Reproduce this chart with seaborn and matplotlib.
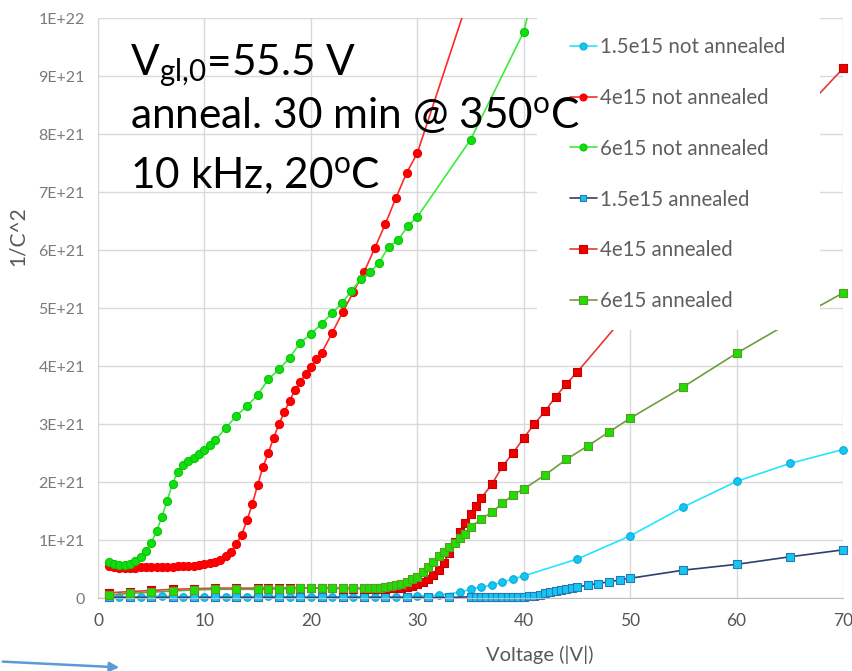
import matplotlib
matplotlib.use("Agg")
import matplotlib.pyplot as plt
from matplotlib.lines import Line2D
from matplotlib.patches import Rectangle, FancyArrowPatch
from matplotlib.ticker import FuncFormatter, MultipleLocator
import numpy as np
import pandas as pd
import seaborn as sns

# ---- measured 1/C^2 curves (values in units of 1e21) ----
series_names = ["1.5e15 not annealed", "4e15 not annealed", "6e15 not annealed",
                "1.5e15 annealed", "4e15 annealed", "6e15 annealed"]

v_15_na = [1, 2, 4, 6, 8, 10, 12, 14, 16, 18, 20, 22, 24, 26, 28, 30, 32, 34,
           35, 36, 37, 38, 39, 40, 45, 50, 55, 60, 65, 70]
c_15_na = [0.03, 0.02, 0.02, 0.03, 0.02, 0.02, 0.02, 0.02, 0.03, 0.02, 0.02, 0.02,
           0.02, 0.02, 0.02, 0.03, 0.05, 0.10,
           0.15, 0.19, 0.22, 0.27, 0.33, 0.38, 0.67, 1.07, 1.57, 2.01, 2.32, 2.56]

v_4_na = [1, 1.5, 2, 2.5, 3, 3.5, 4, 4.5, 5, 5.5, 6, 6.5, 7, 7.5, 8, 8.5, 9, 9.5,
          10, 10.5, 11, 11.5, 12, 12.5, 13, 13.5, 14, 14.5, 15, 15.5, 16, 16.5,
          17, 17.5, 18, 18.5, 19, 19.5, 20, 20.5, 21,
          22, 23, 24, 25, 26, 27, 28, 29, 30, 35]
c_4_na = [0.55, 0.53, 0.52, 0.52, 0.52, 0.52, 0.53, 0.53, 0.53, 0.53, 0.54, 0.54,
          0.54, 0.55, 0.55, 0.55, 0.56, 0.57, 0.58, 0.60, 0.62, 0.66, 0.72, 0.80,
          0.93, 1.09, 1.34, 1.62, 1.95, 2.26, 2.50, 2.76, 3.00, 3.20, 3.40, 3.58,
          3.72, 3.86, 3.98, 4.12, 4.22,
          4.57, 4.93, 5.28, 5.62, 6.03, 6.45, 6.90, 7.33, 7.67, 10.45]

v_6_na = [1, 1.5, 2, 2.5, 3, 3.5, 4, 4.5, 5, 5.5, 6, 6.5, 7, 7.5, 8, 8.5, 9, 9.5,
          10, 10.5, 11, 12, 13, 14, 15, 16, 17, 18, 19, 20, 21,
          22, 22.9, 23.8, 24.7, 25.6, 26.4, 27.3, 28.2, 29.1, 30, 35, 40, 45]
c_6_na = [0.62, 0.59, 0.57, 0.57, 0.58, 0.63, 0.71, 0.81, 0.95, 1.15, 1.40, 1.68,
          1.97, 2.18, 2.30, 2.37, 2.42, 2.48, 2.55, 2.64, 2.72, 2.93, 3.14, 3.31,
          3.50, 3.77, 3.94, 4.14, 4.40, 4.55, 4.73,
          4.91, 5.08, 5.29, 5.50, 5.62, 5.78, 6.05, 6.17, 6.41, 6.57, 7.90, 9.76, 13.5]

v_15_a = [1, 3, 5, 7, 9, 11, 13, 15, 17, 19, 21, 23, 25, 27, 29, 31, 33,
          35, 35.5, 36, 36.5, 37, 37.5, 38, 38.5, 39, 39.5, 40, 40.5, 41, 41.5,
          42, 42.5, 43, 43.5, 44, 44.5, 45, 46, 47, 48, 49, 50, 55, 60, 65, 70]
c_15_a = [0.01, 0.01, 0.01, 0.01, 0.01, 0.01, 0.01, 0.01, 0.01, 0.01, 0.01, 0.01,
          0.01, 0.01, 0.01, 0.01, 0.01,
          0.02, 0.02, 0.02, 0.02, 0.02, 0.02, 0.02, 0.02, 0.02, 0.02, 0.02, 0.03,
          0.04, 0.06, 0.08, 0.10, 0.12, 0.14, 0.15, 0.17, 0.19, 0.22, 0.25, 0.28,
          0.31, 0.34, 0.48, 0.58, 0.71, 0.83]

v_4_a = [1, 3, 5, 7, 9, 11, 13, 15, 16, 17, 18, 19, 20, 21, 22, 23, 24,
         25, 25.5, 26, 26.5, 27, 27.5, 28, 28.5, 29, 29.5, 30, 30.5, 31, 31.5,
         32, 32.5, 33, 33.5, 34, 34.5, 35, 35.5,
         36, 37, 38, 39, 40, 41, 42, 43, 44, 45, 50, 55, 60, 65, 70]
c_4_a = [0.09, 0.11, 0.13, 0.15, 0.16, 0.17, 0.17, 0.17, 0.17, 0.17, 0.17, 0.17,
         0.17, 0.17, 0.17, 0.16, 0.16,
         0.16, 0.16, 0.16, 0.16, 0.16, 0.17, 0.17, 0.18, 0.19, 0.21, 0.24, 0.28,
         0.33, 0.40, 0.49, 0.61, 0.77, 0.96, 1.13, 1.29, 1.45, 1.59,
         1.72, 1.96, 2.27, 2.50, 2.76, 3.00, 3.22, 3.47, 3.69, 3.89,
         4.97, 6.05, 7.10, 8.15, 9.13]

v_6_a = [1, 3, 5, 7, 9, 11, 13, 15, 16, 17, 18, 19, 20, 21, 22, 23, 24,
         25, 25.5, 26, 26.5, 27, 27.5, 28, 28.5, 29, 29.5, 30, 30.5, 31, 31.5,
         32, 32.5, 33, 33.5, 34, 34.5, 35,
         36, 37, 38, 39, 40, 42, 44, 46, 48, 50, 55, 60, 65, 70]
c_6_a = [0.05, 0.08, 0.10, 0.12, 0.14, 0.15, 0.15, 0.15, 0.15, 0.16, 0.16, 0.17,
         0.17, 0.17, 0.17, 0.17, 0.17,
         0.17, 0.17, 0.17, 0.18, 0.19, 0.20, 0.22, 0.25, 0.28, 0.32, 0.36, 0.44,
         0.53, 0.62, 0.72, 0.80, 0.88, 0.95, 1.03, 1.11, 1.22,
         1.36, 1.48, 1.63, 1.78, 1.88, 2.12, 2.39, 2.62, 2.86, 3.10,
         3.64, 4.22, 4.75, 5.26]

volts = [v_15_na, v_4_na, v_6_na, v_15_a, v_4_a, v_6_a]
inv_c2 = [c_15_na, c_4_na, c_6_na, c_15_a, c_4_a, c_6_a]

# ---- series styling ----
line_colors = ["#22E6FF", "#FF2A2A", "#3CEB3C", "#2E3F6E", "#E23A3A", "#6E9E3E"]
face_colors = ["#14C6F2", "#FF0000", "#12DC12", "#14C6F2", "#EE0000", "#22DD00"]
edge_colors = ["#0BA8DA", "#F00000", "#05C805", "#2E75B6", "#C80000", "#5A9A2A"]
marker_kinds = ["o", "o", "o", "s", "s", "s"]
marker_area = [30, 34, 34, 34, 40, 40]
legend_msize = [5.0, 5.0, 5.0, 5.0, 5.2, 5.2]

SCALE = 1e21
Y_MAX = 1e22

frames = []
for name, vv, cc in zip(series_names, volts, inv_c2):
    frames.append(pd.DataFrame({"series": name, "voltage": vv,
                                "inv_c2": np.asarray(cc) * SCALE}))
df = pd.concat(frames, ignore_index=True)

sns.set_style("white")
plt.rcParams["font.family"] = ["Lato", "DejaVu Sans"]
plt.rcParams["mathtext.fontset"] = "custom"
plt.rcParams["mathtext.rm"] = "Lato"
plt.rcParams["mathtext.it"] = "Lato:italic"
plt.rcParams["mathtext.bf"] = "Lato:bold"

W, H = 852, 671
fig = plt.figure(figsize=(W / 100, H / 100), dpi=100)
ax = fig.add_axes([98 / W, 1 - 598 / H, (843 - 98) / W, (598 - 18) / H])

for i, name in enumerate(series_names):
    sub = df[df["series"] == name]
    z = 2 + i * 0.1
    sns.lineplot(data=sub, x="voltage", y="inv_c2", color=line_colors[i],
                 linewidth=1.2, sort=False, estimator=None, ax=ax, zorder=z)
    vis = sub[sub["inv_c2"] <= Y_MAX]
    sns.scatterplot(data=vis, x="voltage", y="inv_c2", marker=marker_kinds[i],
                    s=marker_area[i], color=face_colors[i],
                    edgecolor=edge_colors[i], linewidth=0.8, ax=ax,
                    zorder=z + 0.05, clip_on=False, legend=False)

ax.set_xlim(0, 70)
ax.set_ylim(0, Y_MAX)
ax.xaxis.set_major_locator(MultipleLocator(10))
ax.yaxis.set_major_locator(MultipleLocator(SCALE))


def excel_sci(val, pos):
    if abs(val) < 1:
        return "0"
    return f"{val:.0E}"


ax.yaxis.set_major_formatter(FuncFormatter(excel_sci))
ax.grid(True, color="#D9D9D9", linewidth=1.0)
ax.set_axisbelow(True)
for side in ["top", "right"]:
    ax.spines[side].set_visible(False)
ax.spines["left"].set_color("#D9D9D9")
ax.spines["bottom"].set_color("#BFBFBF")
ax.tick_params(axis="both", length=0)
ax.tick_params(axis="y", labelsize=11.5, labelcolor="#7A7A7A", pad=9.5)
ax.tick_params(axis="x", labelsize=12.5, labelcolor="#555555", pad=11)

ax.set_xlabel("Voltage (|V|)", fontsize=14.5, color="#595959", va="center")
ax.xaxis.set_label_coords((540 - 98) / 745, (598 - 655) / 580)
ax.set_ylabel("1/C^2", fontsize=15, color="#595959", va="center")
ax.yaxis.set_label_coords((18 - 98) / 745, (598 - 236) / 580)

# white panel behind the legend
fig.add_artist(Rectangle((537 / W, 1 - 330 / H), (820 - 537) / W, 330 / H,
                         transform=fig.transFigure, facecolor="white",
                         edgecolor="none", zorder=1))

handles = [Line2D([0], [0], color=line_colors[i], lw=1.2, marker=marker_kinds[i],
                  markersize=legend_msize[i], markerfacecolor=face_colors[i],
                  markeredgecolor=edge_colors[i], markeredgewidth=0.8)
           for i in range(len(series_names))]
leg = fig.legend(handles, series_names, loc="upper left",
                 bbox_to_anchor=(570 / W, 1 - 37 / H), bbox_transform=fig.transFigure,
                 frameon=False, fontsize=14.8, labelcolor="#5F5F5F",
                 handlelength=1.3, handletextpad=0.15, labelspacing=1.5,
                 borderpad=0, borderaxespad=0)
leg.set_zorder(5)

# measurement conditions
cond_kw = dict(fontsize=30.5, color="black", va="baseline", ha="left", zorder=6)
fig.text(130 / W, 1 - 75 / H, r"V$_{\mathrm{gl{,}0}}$=55.5 V", **cond_kw)
fig.text(130 / W, 1 - 129 / H, r"anneal. 30 min @ 350$^{\mathrm{o}}$C", **cond_kw)
fig.text(130 / W, 1 - 189 / H, r"10 kHz, 20$^{\mathrm{o}}$C", **cond_kw)

fig.add_artist(FancyArrowPatch((0, 1 - 661.5 / H), (122 / W, 1 - 667.5 / H),
                               transform=fig.transFigure, arrowstyle="-|>",
                               mutation_scale=14, color="#5B9BD5", lw=1.8))

fig.savefig("out.png", dpi=100)
